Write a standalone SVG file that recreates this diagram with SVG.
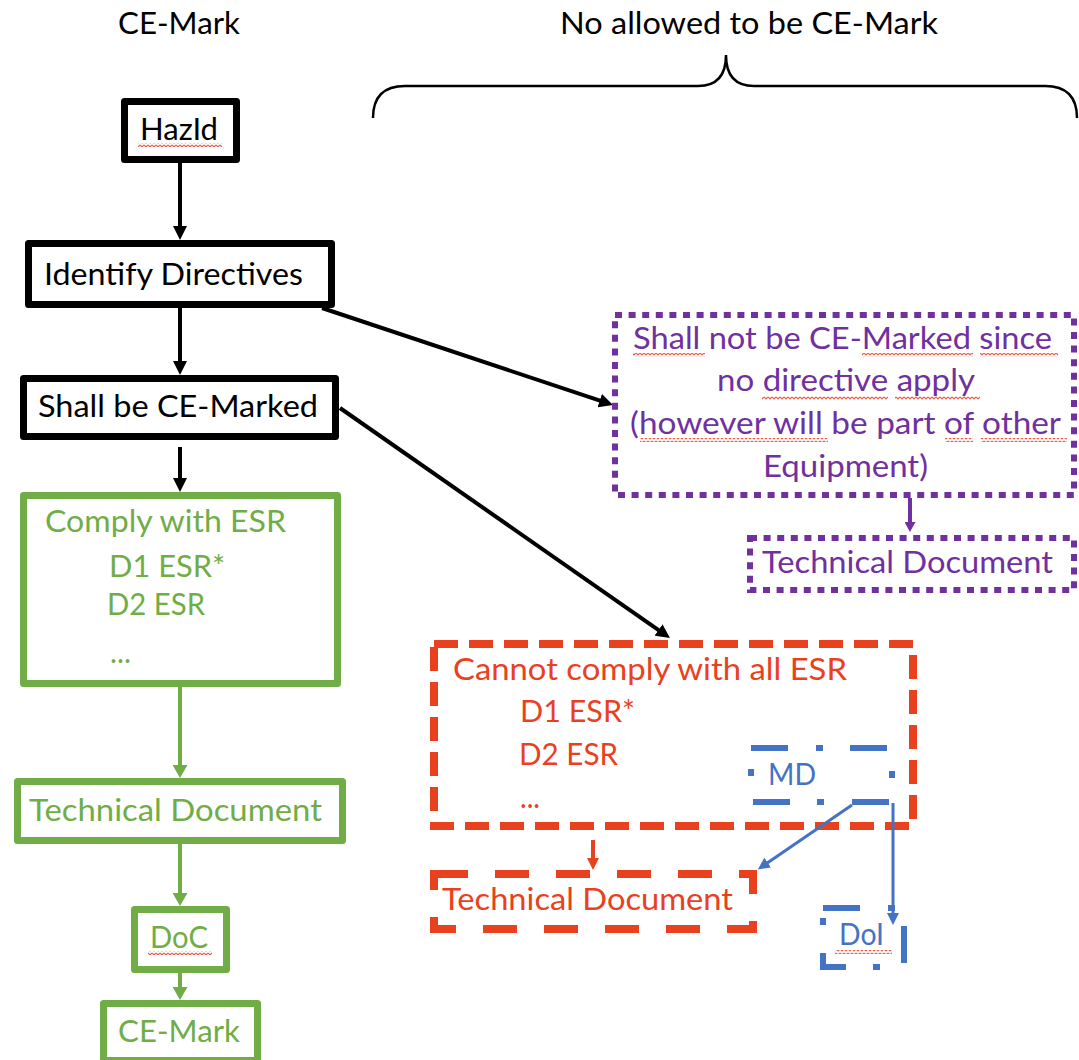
<svg xmlns="http://www.w3.org/2000/svg" width="1079" height="1060" viewBox="0 0 1079 1060">
  <style>
    text { font-family: Lato, "Liberation Sans", sans-serif; font-size: 31px; }
    .blk { fill: #000; }
    .grn { fill: #70AD47; }
    .pur { fill: #7030A0; }
    .red { fill: #E9411E; }
    .blu { fill: #4472C4; }
    .box-k { fill: #fff; stroke: #000; stroke-width: 7; stroke-linejoin: round; }
    .box-g { fill: #fff; stroke: #70AD47; stroke-width: 7; stroke-linejoin: round; }
    .box-p { fill: #fff; stroke: #7030A0; stroke-width: 6; stroke-dasharray: 7 6.6; }
    .box-r { fill: none; stroke: #E9411E; stroke-width: 8; stroke-dasharray: 24 11; }
    .box-r2 { fill: #fff; stroke: #E9411E; stroke-width: 8; stroke-dasharray: 34 27; }
    .box-b { fill: none; stroke: #4472C4; stroke-width: 6; stroke-dasharray: 37 28 7 27; }
    .ln-k { stroke: #000; stroke-width: 4; fill: none; }
    .ln-g { stroke: #70AD47; stroke-width: 4; fill: none; }
    .ln-p { stroke: #7030A0; stroke-width: 4; fill: none; }
    .ln-r { stroke: #E9411E; stroke-width: 4; fill: none; }
    .ln-b { stroke: #4472C4; stroke-width: 3; fill: none; }
    .sq { fill: url(#squiggle); }
  </style>
  <defs>
    <marker id="ah-k" markerUnits="userSpaceOnUse" markerWidth="14" markerHeight="14" refX="1" refY="7" orient="auto">
      <path d="M0,0 L14,7 L0,14 z" fill="#000"/>
    </marker>
    <marker id="ah-g" markerUnits="userSpaceOnUse" markerWidth="13" markerHeight="15" refX="1" refY="7.5" orient="auto">
      <path d="M0,0 L13,7.5 L0,15 z" fill="#70AD47"/>
    </marker>
    <marker id="ah-p" markerUnits="userSpaceOnUse" markerWidth="10" markerHeight="11" refX="1" refY="5.5" orient="auto">
      <path d="M0,0 L10,5.5 L0,11 z" fill="#7030A0"/>
    </marker>
    <marker id="ah-r" markerUnits="userSpaceOnUse" markerWidth="12" markerHeight="12" refX="1" refY="6" orient="auto">
      <path d="M0,0 L12,6 L0,12 z" fill="#E9411E"/>
    </marker>
    <marker id="ah-b" markerUnits="userSpaceOnUse" markerWidth="12" markerHeight="12" refX="1" refY="6" orient="auto">
      <path d="M0,0 L12,6 L0,12 z" fill="#4472C4"/>
    </marker>
    <!-- spell-check style wavy underline -->
    <pattern id="squiggle" patternUnits="userSpaceOnUse" width="4" height="4">
      <path d="M0,1 L2,3 L4,1" fill="none" stroke="#E8604C" stroke-width="1.2"/>
    </pattern>
  </defs>

  <!-- column headings -->
  <g id="headings">
    <text class="blk" x="118" y="34" textLength="122" lengthAdjust="spacingAndGlyphs">CE-Mark</text>
    <text class="blk" x="560" y="34" textLength="378" lengthAdjust="spacingAndGlyphs">No allowed to be CE-Mark</text>
    <path d="M373,118 Q373,86 405,86 L698,86 Q726,86 726,55 Q726,86 754,86 L1045,86 Q1077,86 1077,118" fill="none" stroke="#000" stroke-width="2.5"/>
  </g>

  <!-- connectors -->
  <g id="connectors">
    <line class="ln-k" x1="180" y1="163" x2="180" y2="227" marker-end="url(#ah-k)"/>
    <line class="ln-k" x1="180" y1="308" x2="180" y2="362" marker-end="url(#ah-k)"/>
    <line class="ln-k" x1="180" y1="447" x2="180" y2="479" marker-end="url(#ah-k)"/>
    <line class="ln-k" x1="322" y1="308" x2="600.7" y2="400.9" marker-end="url(#ah-k)"/>
    <line class="ln-k" x1="340" y1="408" x2="659.3" y2="630.6" marker-end="url(#ah-k)"/>
    <line class="ln-g" x1="180" y1="687" x2="180" y2="766" marker-end="url(#ah-g)"/>
    <line class="ln-g" x1="180" y1="844" x2="180" y2="894" marker-end="url(#ah-g)"/>
    <line class="ln-g" x1="180" y1="973" x2="180" y2="988" marker-end="url(#ah-g)"/>
    <line class="ln-p" x1="910" y1="498" x2="910" y2="523" marker-end="url(#ah-p)"/>
    <line class="ln-r" x1="593" y1="840" x2="593" y2="859" marker-end="url(#ah-r)"/>
  </g>

  <!-- CE-marking path -->
  <g id="node-hazid">
    <rect class="box-k" x="124.5" y="101.5" width="112" height="58"/>
    <text class="blk" x="140" y="140" textLength="78" lengthAdjust="spacingAndGlyphs">HazId</text>
    <rect class="sq" x="138" y="143" width="84" height="4"/>
  </g>
  <g id="node-identify">
    <rect class="box-k" x="28.5" y="243.5" width="303" height="61"/>
    <text class="blk" x="44" y="285" textLength="259" lengthAdjust="spacingAndGlyphs">Identify Directives</text>
  </g>
  <g id="node-shall">
    <rect class="box-k" x="23.5" y="378.5" width="312" height="58"/>
    <text class="blk" x="38" y="417" textLength="280" lengthAdjust="spacingAndGlyphs">Shall be CE-Marked</text>
  </g>
  <g id="node-comply">
    <rect class="box-g" x="23.5" y="495.5" width="314" height="188"/>
    <text class="grn" x="45" y="532" textLength="241" lengthAdjust="spacingAndGlyphs">Comply with ESR</text>
    <text class="grn" x="109" y="577" textLength="116" lengthAdjust="spacingAndGlyphs">D1 ESR*</text>
    <text class="grn" x="107" y="615" textLength="98" lengthAdjust="spacingAndGlyphs">D2 ESR</text>
    <text class="grn" x="110" y="663" textLength="21" lengthAdjust="spacingAndGlyphs">...</text>
  </g>
  <g id="node-techdoc-green">
    <rect class="box-g" x="17.5" y="781.5" width="325" height="59"/>
    <text class="grn" x="29" y="821" textLength="293" lengthAdjust="spacingAndGlyphs">Technical Document</text>
  </g>
  <g id="node-doc">
    <rect class="box-g" x="134.5" y="909.5" width="92" height="60"/>
    <text class="grn" x="150" y="948" textLength="58" lengthAdjust="spacingAndGlyphs">DoC</text>
    <rect class="sq" x="148" y="951" width="64" height="4"/>
  </g>
  <g id="node-cemark">
    <rect class="box-g" x="103.5" y="1003.5" width="154" height="57"/>
    <text class="grn" x="118" y="1042" textLength="122" lengthAdjust="spacingAndGlyphs">CE-Mark</text>
  </g>

  <!-- no directive applies -->
  <g id="node-not-marked">
    <rect class="box-p" x="615" y="315" width="459" height="180"/>
    <text class="pur" x="633" y="349" textLength="419" lengthAdjust="spacingAndGlyphs">Shall not be CE-Marked since</text>
    <text class="pur" x="717" y="391" textLength="258" lengthAdjust="spacingAndGlyphs">no directive apply</text>
    <text class="pur" x="630" y="434" textLength="431" lengthAdjust="spacingAndGlyphs">(however will be part of other</text>
    <text class="pur" x="763" y="477" textLength="165" lengthAdjust="spacingAndGlyphs">Equipment)</text>
    <rect class="sq" x="633" y="353" width="72" height="4"/>
    <rect class="sq" x="862" y="353" width="111" height="4"/>
    <rect class="sq" x="980" y="353" width="78" height="4"/>
    <rect class="sq" x="762" y="396" width="126" height="4"/>
    <rect class="sq" x="895" y="396" width="85" height="4"/>
    <rect class="sq" x="640" y="438" width="188" height="4"/>
    <rect class="sq" x="945" y="438" width="28" height="4"/>
    <rect class="sq" x="981" y="438" width="86" height="4"/>
  </g>
  <g id="node-techdoc-purple">
    <rect class="box-p" x="750" y="538" width="324" height="52"/>
    <text class="pur" x="762" y="573" textLength="291" lengthAdjust="spacingAndGlyphs">Technical Document</text>
  </g>

  <!-- partial compliance -->
  <g id="node-cannot-comply">
    <rect fill="#fff" x="434" y="644" width="479" height="182"/>
    <rect class="box-r" x="434" y="644" width="479" height="182"/>
    <text class="red" x="453" y="680" textLength="394" lengthAdjust="spacingAndGlyphs">Cannot comply with all ESR</text>
    <text class="red" x="520" y="722" textLength="115" lengthAdjust="spacingAndGlyphs">D1 ESR*</text>
    <text class="red" x="519" y="765" textLength="99" lengthAdjust="spacingAndGlyphs">D2 ESR</text>
    <text class="red" x="520" y="808" textLength="20" lengthAdjust="spacingAndGlyphs">...</text>
  </g>
  <g id="node-techdoc-red">
    <rect class="box-r2" x="434" y="874" width="319" height="55"/>
    <text class="red" x="442" y="910" textLength="291" lengthAdjust="spacingAndGlyphs">Technical Document</text>
  </g>
  <g id="node-md">
    <rect class="box-b" x="751" y="748" width="141" height="54"/>
    <text class="blu" x="768" y="785" textLength="48" lengthAdjust="spacingAndGlyphs">MD</text>
  </g>
  <g id="node-doi">
    <rect class="box-b" x="823" y="908" width="81" height="59"/>
    <text class="blu" x="839" y="945" textLength="45" lengthAdjust="spacingAndGlyphs">DoI</text>
    <rect class="sq" x="835" y="950" width="57" height="4"/>
  </g>

  <!-- machinery directive connectors -->
  <g id="connectors-md">
    <line class="ln-b" x1="852" y1="805" x2="766.9" y2="863.2" marker-end="url(#ah-b)"/>
    <line class="ln-b" x1="893" y1="803" x2="893" y2="914" marker-end="url(#ah-b)"/>
  </g>
</svg>
